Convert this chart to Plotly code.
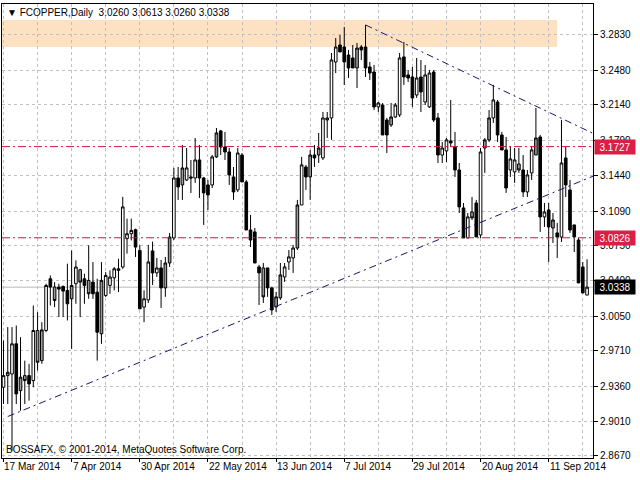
import plotly.graph_objects as go

# ---------------- data ----------------
opens = [2.9349, 2.9464, 2.9480, 2.9778, 2.9316, 2.9464, 2.9464, 2.9415, 2.9910, 2.9612,
         2.9910, 3.0421, 3.0339, 3.0339, 3.0345, 3.0306, 3.0223, 3.0372, 3.0510, 3.0421,
         3.0405, 3.0388, 3.0289, 2.9877, 3.0256, 3.0355, 3.0431, 3.0520, 3.0537, 3.0817,
         3.0866, 3.0906, 3.0701, 3.0141, 3.0212, 3.0696, 3.0479, 3.0528, 3.0331, 3.0577,
         3.0824, 3.1417, 3.1348, 3.1397, 3.1427, 3.1417, 3.1595, 3.1417, 3.1348, 3.1348,
         3.1625, 3.1882, 3.1723, 3.1674, 3.1427, 3.1299, 3.1644, 3.1378, 3.0903, 3.0884,
         3.0538, 3.0528, 3.0528, 3.0331, 3.0143, 3.0232, 3.0439, 3.0587, 3.0627, 3.0725,
         3.1150, 3.1526, 3.1427, 3.1644, 3.1644, 3.1615, 3.2010, 3.2010, 3.2563, 3.2731,
         3.2711, 3.2632, 3.2603, 3.2504, 3.2711, 3.2711, 3.2514, 3.2464, 3.2119, 3.2138,
         3.1990, 3.1941, 3.2020, 3.2040, 3.2613, 3.2435, 3.2415, 3.2237, 3.2415, 3.2168,
         3.2119, 3.2464, 3.2010, 3.1644, 3.1684, 3.1783, 3.1723, 3.1496, 3.1121, 3.0824,
         3.1081, 3.1170, 3.0854, 3.1713, 3.1793, 3.2010, 3.2168, 3.1842, 3.1694, 3.1496,
         3.1477, 3.1555, 3.1496, 3.1279, 3.1467, 3.1644, 3.1822, 3.1032, 3.1101, 3.0923,
         3.0874, 3.0834, 3.1615, 3.1299, 3.0953, 3.0804, 3.0538, 3.0260]
highs = [2.9811, 2.9943, 2.9943, 2.9959, 2.9844, 2.9612, 2.9580, 3.0157, 3.0091, 2.9992,
         3.0372, 3.0454, 3.0388, 3.0372, 3.0355, 3.0570, 3.0701, 3.0603, 3.0520, 3.0471,
         3.0751, 3.0586, 3.0421, 3.0586, 3.0487, 3.0504, 3.0537, 3.0619, 3.1230, 3.1015,
         3.1015, 3.0916, 3.0751, 3.0306, 3.0755, 3.0788, 3.0627, 3.0607, 3.0637, 3.0874,
         3.1516, 3.1526, 3.1743, 3.1713, 3.1595, 3.1812, 3.1743, 3.1427, 3.1397, 3.1644,
         3.1911, 3.1892, 3.1872, 3.1713, 3.1526, 3.1713, 3.1664, 3.1397, 3.1052, 3.0923,
         3.0558, 3.0577, 3.0528, 3.0341, 3.0291, 3.0577, 3.0577, 3.0705, 3.0755, 3.1200,
         3.1625, 3.1546, 3.1694, 3.1743, 3.1862, 3.2069, 3.2069, 3.2652, 3.2800, 3.2830,
         3.2909, 3.2682, 3.2731, 3.2751, 3.2731, 3.2929, 3.2563, 3.2534, 3.2168, 3.2158,
         3.2010, 3.2158, 3.2158, 3.2652, 3.2761, 3.2484, 3.2514, 3.2603, 3.2583, 3.2534,
         3.2484, 3.2484, 3.2059, 3.1773, 3.1812, 3.2188, 3.1872, 3.1565, 3.1170, 3.1071,
         3.1229, 3.1200, 3.1713, 3.1812, 3.2089, 3.2336, 3.2188, 3.1872, 3.1822, 3.1723,
         3.1713, 3.1713, 3.1644, 3.1496, 3.1723, 3.2109, 3.1842, 3.1170, 3.1170, 3.1071,
         3.0973, 3.1990, 3.1723, 3.1397, 3.0953, 3.0824, 3.0587, 3.0613]
lows = [2.9184, 2.9184, 2.8722, 2.9184, 2.9117, 2.9184, 2.9217, 2.9349, 2.9514, 2.9580,
        2.9893, 3.0157, 3.0141, 3.0042, 3.0042, 3.0009, 2.9728, 3.0174, 3.0042, 3.0174,
        3.0223, 3.0223, 2.9612, 2.9778, 3.0240, 3.0273, 3.0306, 3.0289, 3.0520, 3.0669,
        3.0800, 3.0636, 3.0124, 2.9992, 3.0182, 3.0360, 3.0439, 3.0133, 3.0242, 3.0538,
        3.0804, 3.1200, 3.1200, 3.1387, 3.1269, 3.1368, 3.1220, 3.0953, 3.1101, 3.1318,
        3.1615, 3.1644, 3.1595, 3.1348, 3.1200, 3.1279, 3.1378, 3.0903, 3.0735, 3.0577,
        3.0162, 3.0182, 3.0242, 3.0064, 3.0093, 3.0212, 3.0390, 3.0508, 3.0479, 3.0705,
        3.1150, 3.1299, 3.1200, 3.1526, 3.1565, 3.1595, 3.1812, 3.1793, 3.2454, 3.2662,
        3.2336, 3.2405, 3.2504, 3.2306, 3.2583, 3.2415, 3.2385, 3.2089, 3.2069, 3.1842,
        3.1664, 3.1921, 3.2010, 3.2020, 3.2336, 3.2366, 3.2119, 3.2208, 3.2069, 3.2138,
        3.2109, 3.1970, 3.1565, 3.1565, 3.1575, 3.1723, 3.1427, 3.1071, 3.0824, 3.0824,
        3.1002, 3.0834, 3.0824, 3.1467, 3.1773, 3.1961, 3.1773, 3.1694, 3.1269, 3.1427,
        3.1368, 3.1467, 3.1229, 3.1229, 3.1397, 3.1644, 3.0884, 3.0933, 3.0587, 3.0775,
        3.0627, 3.0785, 3.1229, 3.0874, 3.0686, 3.0380, 3.0281, 3.0260]
closes = [2.9464, 2.9497, 2.9778, 2.9283, 2.9448, 2.9415, 2.9382, 2.9910, 2.9596, 2.9916,
          3.0355, 3.0339, 3.0207, 3.0319, 3.0299, 3.0174, 3.0355, 3.0537, 3.0388, 3.0355,
          3.0273, 3.0273, 2.9893, 3.0405, 3.0454, 3.0438, 3.0520, 3.0504, 3.1131, 3.0866,
          3.0899, 3.0734, 3.0124, 3.0223, 3.0587, 3.0479, 3.0528, 3.0331, 3.0577, 3.0834,
          3.1417, 3.1328, 3.1516, 3.1516, 3.1417, 3.1595, 3.1417, 3.1269, 3.1249, 3.1625,
          3.1862, 3.1723, 3.1674, 3.1447, 3.1279, 3.1664, 3.1378, 3.0903, 3.0804, 3.0577,
          3.0479, 3.0242, 3.0331, 3.0113, 3.0242, 3.0459, 3.0538, 3.0637, 3.0725, 3.1150,
          3.1546, 3.1427, 3.1644, 3.1615, 3.1713, 3.2010, 3.1990, 3.2583, 3.2711, 3.2662,
          3.2563, 3.2504, 3.2504, 3.2701, 3.2682, 3.2504, 3.2454, 3.2119, 3.2158, 3.1842,
          3.1842, 3.2020, 3.2138, 3.2603, 3.2415, 3.2405, 3.2208, 3.2405, 3.2267, 3.2435,
          3.2454, 3.1990, 3.1644, 3.1713, 3.1793, 3.1763, 3.1496, 3.1131, 3.0824, 3.1032,
          3.1022, 3.0834, 3.1674, 3.1793, 3.2010, 3.2188, 3.1842, 3.1694, 3.1318, 3.1605,
          3.1595, 3.1496, 3.1279, 3.1447, 3.1694, 3.1812, 3.1032, 3.1081, 3.0933, 3.1002,
          3.0834, 3.1565, 3.1348, 3.0903, 3.0834, 3.0380, 3.0281, 3.0338]
# body tone seen in the picture: W = hollow, B = filled black, G = filled grey
tones = ("WGWBGGBWGG" "WBGBBBGWGB" "GBBGWWWGWW" "WBBWWBWBGG" "WBGWBWBBBW"
         "GBBBBWBBBB" "BGBBGGWWWG" "WBGBGWGWWB" "BBBGBBBBWB" "BGWWBBBWBW"
         "WBBWWBBBBW" "GBWGGWBBBW" "WGBWWGBWBG" "BWBBBBBW")

x_labels = ["17 Mar 2014", "7 Apr 2014", "30 Apr 2014", "22 May 2014", "13 Jun 2014",
            "7 Jul 2014", "29 Jul 2014", "20 Aug 2014", "11 Sep 2014"]
label_every = 16
y_ticks = [3.2830, 3.2480, 3.2140, 3.1790, 3.1440, 3.1090, 3.0750, 3.0400,
           3.0050, 2.9710, 2.9360, 2.9010, 2.8670]
level_lines = [3.1727, 3.0826]
bid_price = 3.0338
zone_prices = [3.2711, 3.2978]
zone_end_bar = 130
lower_trend_bars, lower_trend_prices = [1, 137], [2.9060, 3.1410]
upper_trend_bars, upper_trend_prices = [85, 137], [3.2929, 3.1886]
header = "\u25bc FCOPPER,Daily  3.0260 3.0613 3.0260 3.0338"
footer = "BOSSAFX, \u00a9 2001-2014, MetaQuotes Software Corp."

# ---------------- figure ----------------
n = len(opens)
x_range = [-0.35, n + 0.4]
y_range = [2.8650, 3.3136]
FONT = "Liberation Sans, Arial, sans-serif"

fig = go.Figure()

def candles(idx, inc_fill, dec_fill):
    return go.Candlestick(
        x=idx, open=[opens[i] for i in idx], high=[highs[i] for i in idx],
        low=[lows[i] for i in idx], close=[closes[i] for i in idx],
        increasing=dict(line=dict(color="black", width=1), fillcolor=inc_fill),
        decreasing=dict(line=dict(color="black", width=1), fillcolor=dec_fill),
        whiskerwidth=0, showlegend=False, hoverinfo="skip")

plain = [i for i in range(n) if tones[i] != "G"]
grey = [i for i in range(n) if tones[i] == "G"]
fig.add_trace(candles(plain, "white", "black"))
fig.add_trace(candles(grey, "#9a9a9a", "#9a9a9a"))

def extend(bars, prices):
    slope = (prices[1] - prices[0]) / (bars[1] - bars[0])
    xe = x_range[1]
    return [bars[0], xe], [prices[0], prices[0] + slope * (xe - bars[0])]

for b, p in [(lower_trend_bars, lower_trend_prices), (upper_trend_bars, upper_trend_prices)]:
    xs, ys = extend(b, p)
    fig.add_trace(go.Scatter(x=xs, y=ys, mode="lines", showlegend=False, hoverinfo="skip",
                             line=dict(color="#16166a", width=1, dash="7px,4px,2px,4px")))

shapes = [dict(type="rect", xref="x", yref="y", x0=x_range[0], x1=zone_end_bar,
               y0=zone_prices[0], y1=zone_prices[1], fillcolor="#fce2c2",
               line=dict(width=0), layer="below")]
for lv in level_lines:
    shapes.append(dict(type="line", xref="paper", yref="y", x0=0, x1=1, y0=lv, y1=lv,
                       line=dict(color="#d8143c", width=1, dash="8px,3px,2px,3px")))
shapes.append(dict(type="line", xref="paper", yref="y", x0=0, x1=1, y0=bid_price, y1=bid_price,
                   line=dict(color="#b8b8b8", width=1), layer="below"))

annotations = []
for k, lab in enumerate(x_labels):
    annotations.append(dict(x=k * label_every, y=0, xref="x", yref="paper", text=lab,
                            showarrow=False, xanchor="left", yanchor="top", yshift=-1,
                            xshift=-1, font=dict(family=FONT, size=10, color="black")))
for lv in level_lines:
    annotations.append(dict(x=1, y=lv, xref="paper", yref="y", text=f"{lv:.4f}",
                            showarrow=False, xanchor="left", yanchor="middle", xshift=1,
                            bgcolor="#dc1e46", width=38, height=12, borderpad=1,
                            font=dict(family=FONT, size=10, color="white")))
annotations.append(dict(x=1, y=bid_price, xref="paper", yref="y", text=f"{bid_price:.4f}",
                        showarrow=False, xanchor="left", yanchor="middle", xshift=1,
                        bgcolor="black", width=38, height=12, borderpad=1,
                        font=dict(family=FONT, size=10, color="white")))
annotations.append(dict(x=0, y=1, xref="paper", yref="paper", text=header, showarrow=False,
                        xanchor="left", yanchor="top", xshift=3, yshift=-1,
                        font=dict(family=FONT, size=10, color="black")))
annotations.append(dict(x=0, y=0, xref="paper", yref="paper", text=footer, showarrow=False,
                        xanchor="left", yanchor="bottom", xshift=2, yshift=1,
                        font=dict(family=FONT, size=10, color="black")))

grid = dict(showgrid=True, gridcolor="#c0c0c0", gridwidth=1, griddash="3px,3px")
fig.update_layout(
    width=640, height=480,
    margin=dict(l=2, r=47, t=4, b=22),
    paper_bgcolor="white", plot_bgcolor="white",
    font=dict(family=FONT, size=10, color="black"),
    boxgap=0.12,
    shapes=shapes, annotations=annotations,
    xaxis=dict(range=x_range, tickmode="linear", tick0=0, dtick=label_every,
               showticklabels=False, ticks="outside", ticklen=3, tickcolor="black",
               showline=True, mirror=True, linecolor="black", linewidth=1,
               zeroline=False, rangeslider=dict(visible=False),
               minor=dict(dtick=label_every // 2, showgrid=True, gridcolor="#c0c0c0",
                          griddash="3px,3px", ticks=""),
               **grid),
    yaxis=dict(range=y_range, side="right", tickmode="array", tickvals=y_ticks,
               ticktext=[f"{v:.4f}" for v in y_ticks], ticks="outside", ticklen=4,
               tickcolor="black", showline=True, mirror=True, linecolor="black",
               linewidth=1, zeroline=False, tickfont=dict(family=FONT, size=10),
               **grid),
)

fig.write_html("out.html", config={"displayModeBar": False},
               post_script="document.body.style.margin='0px';")
